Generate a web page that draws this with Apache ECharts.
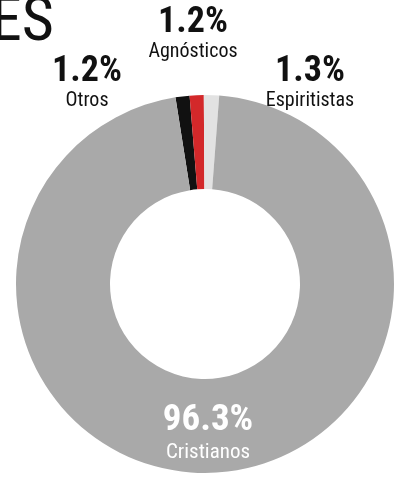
<!DOCTYPE html>
<html><head><meta charset="utf-8">
<script src="https://cdn.jsdelivr.net/npm/echarts@6/dist/echarts.min.js"></script>
<style>html,body{margin:0;padding:0;background:#fff}#c{width:401px;height:486px}</style>
</head><body><div id="c"></div>
<script>
const categories = ['Otros', 'Agnósticos', 'Espiritistas', 'Cristianos'];
const values = [1.2, 1.2, 1.3, 96.3];
const valueLabels = ['1.2%', '1.2%', '1.3%', '96.3%'];
const colors = ['#111111', '#d3282a', '#e2e2e2', '#a9a9a9'];
const titleText = 'ES';

const FONT = 'Roboto, sans-serif';
const labelPos = [[87, 84], [193, 35], [310, 84], [208, 436]];

const chart = echarts.init(document.getElementById('c'));
chart.setOption({
  backgroundColor: '#ffffff',
  animation: false,
  title: {
    text: titleText, left: -14, top: -12,
    textStyle: { fontFamily: FONT, fontStyle: 'condensed', fontSize: 62, fontWeight: 'normal', color: '#111' }
  },
  series: [{
    type: 'pie',
    center: [205, 284],
    radius: [95, 189],
    startAngle: 99,
    clockwise: true,
    avoidLabelOverlap: false,
    data: categories.map((c, i) => ({
      name: c, value: values[i],
      itemStyle: { color: colors[i] },
      label: i === 3 ? { rich: {
        v: { color: '#fff', fontSize: 37 },
        n: { color: '#fff', fontSize: 21, lineHeight: 30 }
      } } : {}
    })),
    label: {
      show: true,
      position: 'outside',
      formatter: p => '{v|' + valueLabels[p.dataIndex] + '}\n{n|' + p.name + '}',
      rich: {
        v: { fontFamily: FONT, fontStyle: 'condensed', fontSize: 36, fontWeight: 'bold', color: '#111', lineHeight: 34, align: 'center' },
        n: { fontFamily: FONT, fontStyle: 'condensed', fontSize: 20, color: '#111', lineHeight: 24, align: 'center' }
      }
    },
    labelLine: { show: false },
    labelLayout: p => ({ x: labelPos[p.dataIndex][0], y: labelPos[p.dataIndex][1], align: 'center', verticalAlign: 'middle' })
  }]
});
</script></body></html>
